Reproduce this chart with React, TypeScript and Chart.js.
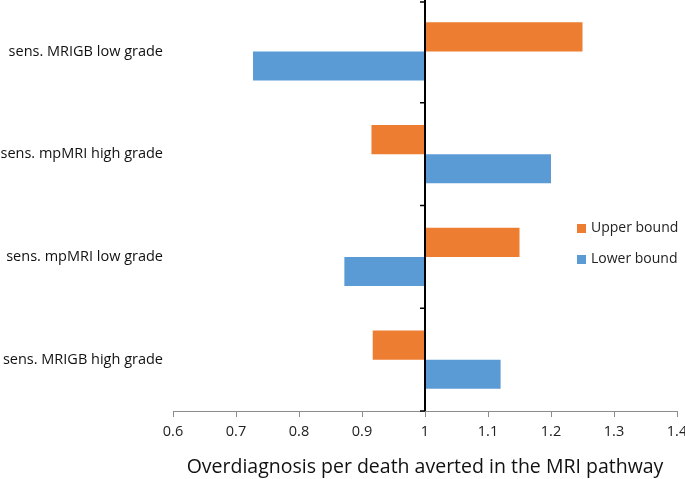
import React, { useEffect, useRef } from "react";
import { Chart, registerables } from "chart.js";

Chart.register(...registerables);

const categories = [
  "sens. MRIGB low grade",
  "sens. mpMRI high grade",
  "sens. mpMRI low grade",
  "sens. MRIGB high grade",
];
const baseline = 1;
const upperBound = [1.25, 0.915, 1.15, 0.917];
const lowerBound = [0.727, 1.2, 0.872, 1.12];
const xTickValues = [0.6, 0.7, 0.8, 0.9, 1, 1.1, 1.2, 1.3, 1.4];
const seriesNames = ["Upper bound", "Lower bound"];
const seriesColors = ["#ED7D31", "#5B9BD5"];

const FONT = "'Open Sans', 'Liberation Sans', sans-serif";

const overlayPlugin = {
  id: "overlay",
  afterDatasetsDraw(chart: any) {
    const { ctx, scales, chartArea } = chart;
    const x = scales.x.getPixelForValue(baseline);
    const n = categories.length;
    const top = chartArea.top;
    const bottom = chartArea.bottom;
    ctx.save();
    ctx.strokeStyle = "#000";
    ctx.lineWidth = 2;
    ctx.beginPath();
    ctx.moveTo(x, top);
    ctx.lineTo(x, bottom);
    ctx.stroke();
    ctx.lineWidth = 1.5;
    for (let i = 0; i <= n; i++) {
      const y = top + ((bottom - top) * i) / n;
      const yy = i === 0 ? y + 2 : y;
      ctx.beginPath();
      ctx.moveTo(x - 5, yy);
      ctx.lineTo(x, yy);
      ctx.stroke();
    }
    // legend
    ctx.font = `14px ${FONT}`;
    ctx.textBaseline = "middle";
    ctx.textAlign = "left";
    const lx = 577;
    const ly = [228.5, 259.5];
    seriesNames.forEach((name, i) => {
      ctx.fillStyle = seriesColors[i];
      ctx.fillRect(lx, ly[i] - 4.5, 9, 9);
      ctx.fillStyle = "#222";
      ctx.fillText(name, lx + 14, ly[i]);
    });
    ctx.restore();
  },
};

export default function App() {
  const ref = useRef<HTMLCanvasElement>(null);
  useEffect(() => {
    document.body.style.margin = "0";
    const chart = new Chart(ref.current!, {
      type: "bar",
      data: {
        labels: categories,
        datasets: [
          {
            label: seriesNames[0],
            data: upperBound.map((v) => [baseline, v]) as any,
            backgroundColor: seriesColors[0],
            barPercentage: 1,
            categoryPercentage: 0.565,
          },
          {
            label: seriesNames[1],
            data: lowerBound.map((v) => [baseline, v]) as any,
            backgroundColor: seriesColors[1],
            barPercentage: 1,
            categoryPercentage: 0.565,
          },
        ],
      },
      options: {
        indexAxis: "y",
        animation: false,
        responsive: false,
        maintainAspectRatio: false,
        layout: { padding: { top: 0, right: 8, left: 0, bottom: 0 } },
        plugins: { legend: { display: false }, tooltip: { enabled: false } },
        scales: {
          x: {
            min: 0.6,
            max: 1.4,
            afterBuildTicks: (scale: any) => {
              scale.ticks = xTickValues.map((v) => ({ value: v }));
            },
            afterFit: (scale: any) => {
              scale.height = 68;
              scale.paddingRight = 0;
              scale.paddingLeft = 0;
            },
            grid: {
              display: true,
              drawOnChartArea: false,
              drawTicks: true,
              tickLength: 6,
              color: "#8c8c8c",
            },
            border: { display: true, color: "#8c8c8c", width: 1 },
            ticks: {
              padding: 6,
              color: "#222",
              font: { family: FONT, size: 14.5 },
              maxRotation: 0,
              callback: (v: any) => String(Math.round(Number(v) * 10) / 10),
            },
            title: {
              display: true,
              text: "Overdiagnosis per death averted in the MRI pathway",
              color: "#111",
              font: { family: FONT, size: 19.5 },
              padding: { top: 2, bottom: 0 },
            },
          },
          y: {
            afterFit: (scale: any) => {
              scale.width = 173;
              scale.paddingTop = 0;
              scale.paddingBottom = 0;
            },
            grid: { display: false, drawTicks: false },
            border: { display: false },
            ticks: {
              padding: 10,
              color: "#111",
              font: { family: FONT, size: 14.5 },
            },
          },
        },
      },
      plugins: [overlayPlugin],
    });
    return () => chart.destroy();
  }, []);
  return (
    <div style={{ width: 685, height: 479 }}>
      <canvas ref={ref} width={685} height={479} style={{ display: "block" }} />
    </div>
  );
}
